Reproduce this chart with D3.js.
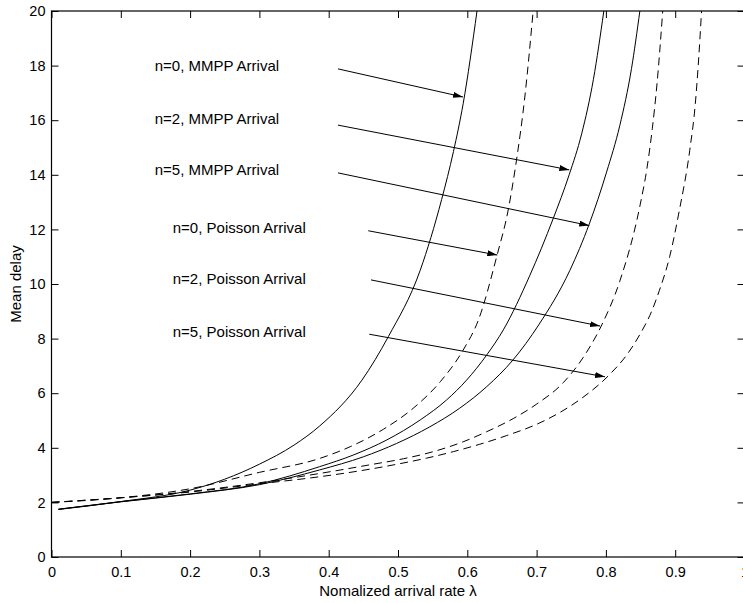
<!DOCTYPE html>
<html>
<head>
<meta charset="utf-8">
<script src="https://cdn.jsdelivr.net/npm/d3@7"></script>
<style>
  body { margin: 0; background: #fff; }
  svg { display: block; font-family: "Liberation Sans", Arial, Helvetica, sans-serif; }
</style>
</head>
<body>
<svg id="chart" width="743" height="603"></svg>
<script>
// Values: [lambda, mean delay]
const mmpp_n0 = [[0.01,1.74],[0.1,2.03],[0.2,2.45],[0.25,2.85],[0.3,3.4],[0.35,4.1],[0.387,4.8],
  [0.448,6.48],[0.486,8.07],[0.532,10.5],[0.563,13.1],[0.58,14.85],[0.594,16.6],[0.614,20]];
const mmpp_n2 = [[0.01,1.75],[0.1,2.03],[0.2,2.31],[0.3,2.68],[0.387,3.31],[0.436,3.74],[0.484,4.29],
  [0.532,5.02],[0.57,5.75],[0.599,6.48],[0.628,7.4],[0.652,8.32],[0.69,10.3],[0.724,12.4],
  [0.747,14.0],[0.765,15.5],[0.782,17.5],[0.797,20]];
const mmpp_n5 = [[0.01,1.75],[0.1,2.02],[0.2,2.3],[0.3,2.65],[0.387,3.19],[0.45,3.67],[0.498,4.16],
  [0.546,4.77],[0.589,5.45],[0.628,6.24],[0.666,7.22],[0.703,8.5],[0.748,10.5],[0.776,12.2],
  [0.801,14.1],[0.82,15.8],[0.837,17.9],[0.849,20]];
const poisson_n0 = [[0,2.0],[0.1,2.17],[0.2,2.5],[0.3,3.1],[0.387,3.61],[0.431,4.04],[0.479,4.68],
  [0.522,5.45],[0.561,6.42],[0.594,7.58],[0.616,8.68],[0.643,11.06],[0.659,12.71],[0.671,14.54],
  [0.683,16.85],[0.695,20]];
const poisson_n2 = [[0,2.0],[0.1,2.17],[0.2,2.4],[0.3,2.72],[0.387,3.06],[0.46,3.38],[0.508,3.6],
  [0.551,3.86],[0.594,4.22],[0.628,4.59],[0.667,5.08],[0.7,5.6],[0.739,6.4],[0.767,7.3],
  [0.794,8.5],[0.82,10.1],[0.849,12.85],[0.859,14.2],[0.867,15.7],[0.874,17.4],[0.882,20]];
const poisson_n5 = [[0,2.0],[0.1,2.17],[0.2,2.38],[0.3,2.68],[0.387,2.94],[0.46,3.22],[0.503,3.42],
  [0.541,3.62],[0.58,3.86],[0.618,4.13],[0.657,4.45],[0.7,4.86],[0.734,5.3],[0.767,5.85],
  [0.806,6.7],[0.83,7.4],[0.849,8.15],[0.866,9.0],[0.877,9.75],[0.892,11.0],[0.906,12.7],
  [0.921,14.9],[0.929,16.6],[0.934,18.3],[0.938,20]];

const series = [
  { values: mmpp_n0, dashed: false },
  { values: mmpp_n2, dashed: false },
  { values: mmpp_n5, dashed: false },
  { values: poisson_n0, dashed: true },
  { values: poisson_n2, dashed: true },
  { values: poisson_n5, dashed: true },
];

// Text arrows, in data units: label position, arrow tail, arrow head.
const labels = ["n=0, MMPP Arrival", "n=2, MMPP Arrival", "n=5, MMPP Arrival",
  "n=0, Poisson Arrival", "n=2, Poisson Arrival", "n=5, Poisson Arrival"];
const labelAt = [[0.149,17.8],[0.149,15.86],[0.149,13.99],[0.175,11.86],[0.175,10.0],[0.175,8.07]];
const arrowFrom = [[0.4134,17.88],[0.4134,15.82],[0.4134,14.07],[0.4571,11.95],[0.461,10.15],[0.4586,8.16]];
const arrowTo = [[0.5938,16.85],[0.7472,14.18],[0.776,12.14],[0.6433,11.06],[0.7915,8.46],[0.7987,6.60]];

const xTicks = [0, 0.1, 0.2, 0.3, 0.4, 0.5, 0.6, 0.7, 0.8, 0.9, 1];
const yTicks = [0, 2, 4, 6, 8, 10, 12, 14, 16, 18, 20];

const svg = d3.select("#chart");
const plotLeft = 51.5, plotTop = 11, plotW = 693, plotH = 546;

const x = d3.scaleLinear().domain([0, 1]).range([plotLeft, plotLeft + plotW]);
const y = d3.scaleLinear().domain([0, 20]).range([plotTop + plotH, plotTop]);

const defs = svg.append("defs");
defs.append("clipPath").attr("id", "plot")
  .append("rect").attr("x", plotLeft).attr("y", plotTop).attr("width", plotW).attr("height", plotH);

defs.append("marker")
  .attr("id", "head")
  .attr("viewBox", "0 0 10 6")
  .attr("refX", 10).attr("refY", 3)
  .attr("markerWidth", 10).attr("markerHeight", 6)
  .attr("markerUnits", "userSpaceOnUse")
  .attr("orient", "auto")
  .append("path").attr("d", "M0,0L10,3L0,6Z").attr("fill", "#000");

// curves
const line = d3.line()
  .x(d => x(d[0]))
  .y(d => y(d[1]))
  .curve(d3.curveMonotoneX);

svg.append("g").attr("clip-path", "url(#plot)")
  .selectAll("path")
  .data(series)
  .join("path")
  .attr("d", d => line(d.values))
  .attr("fill", "none")
  .attr("stroke", "#000")
  .attr("stroke-width", 1)
  .attr("stroke-dasharray", d => d.dashed ? "8,5" : null);

// box axes, ticks pointing inward
const tickLen = 7;
const axisStyle = g => {
  g.select(".domain").remove();
  g.selectAll(".tick line").attr("stroke", "#000");
  g.selectAll("text").attr("fill", "#000").attr("font-size", 14.5);
};

svg.append("g").attr("transform", `translate(0,${plotTop + plotH})`)
  .call(d3.axisBottom(x).tickValues(xTicks).tickSizeInner(-tickLen).tickSizeOuter(0)
    .tickPadding(10).tickFormat(d3.format("")))
  .call(axisStyle);
svg.append("g").attr("transform", `translate(0,${plotTop})`)
  .call(d3.axisTop(x).tickValues(xTicks).tickSizeInner(-tickLen).tickSizeOuter(0).tickFormat(""))
  .call(axisStyle);
svg.append("g").attr("transform", `translate(${plotLeft},0)`)
  .call(d3.axisLeft(y).tickValues(yTicks).tickSizeInner(-tickLen).tickSizeOuter(0)
    .tickPadding(6).tickFormat(d3.format("d")))
  .call(axisStyle);
svg.append("g").attr("transform", `translate(${plotLeft + plotW},0)`)
  .call(d3.axisRight(y).tickValues(yTicks).tickSizeInner(-tickLen).tickSizeOuter(0).tickFormat(""))
  .call(axisStyle);

svg.append("rect")
  .attr("x", plotLeft).attr("y", plotTop).attr("width", plotW).attr("height", plotH)
  .attr("fill", "none").attr("stroke", "#000").attr("stroke-width", 1.2);

// annotations
const notes = svg.append("g");
notes.selectAll("line")
  .data(arrowFrom)
  .join("line")
  .attr("x1", d => x(d[0])).attr("y1", d => y(d[1]))
  .attr("x2", (d, i) => x(arrowTo[i][0])).attr("y2", (d, i) => y(arrowTo[i][1]))
  .attr("stroke", "#000").attr("stroke-width", 1)
  .attr("marker-end", "url(#head)");
notes.selectAll("text")
  .data(labels)
  .join("text")
  .attr("x", (d, i) => x(labelAt[i][0]))
  .attr("y", (d, i) => y(labelAt[i][1]))
  .attr("font-size", 15)
  .text(d => d);

// axis titles
svg.append("text")
  .attr("x", x(0.5)).attr("y", 596)
  .attr("text-anchor", "middle").attr("font-size", 15)
  .text("Nomalized arrival rate λ");
svg.append("text")
  .attr("transform", `translate(21,${y(10)}) rotate(-90)`)
  .attr("text-anchor", "middle").attr("font-size", 15)
  .text("Mean delay");
</script>
</body>
</html>
